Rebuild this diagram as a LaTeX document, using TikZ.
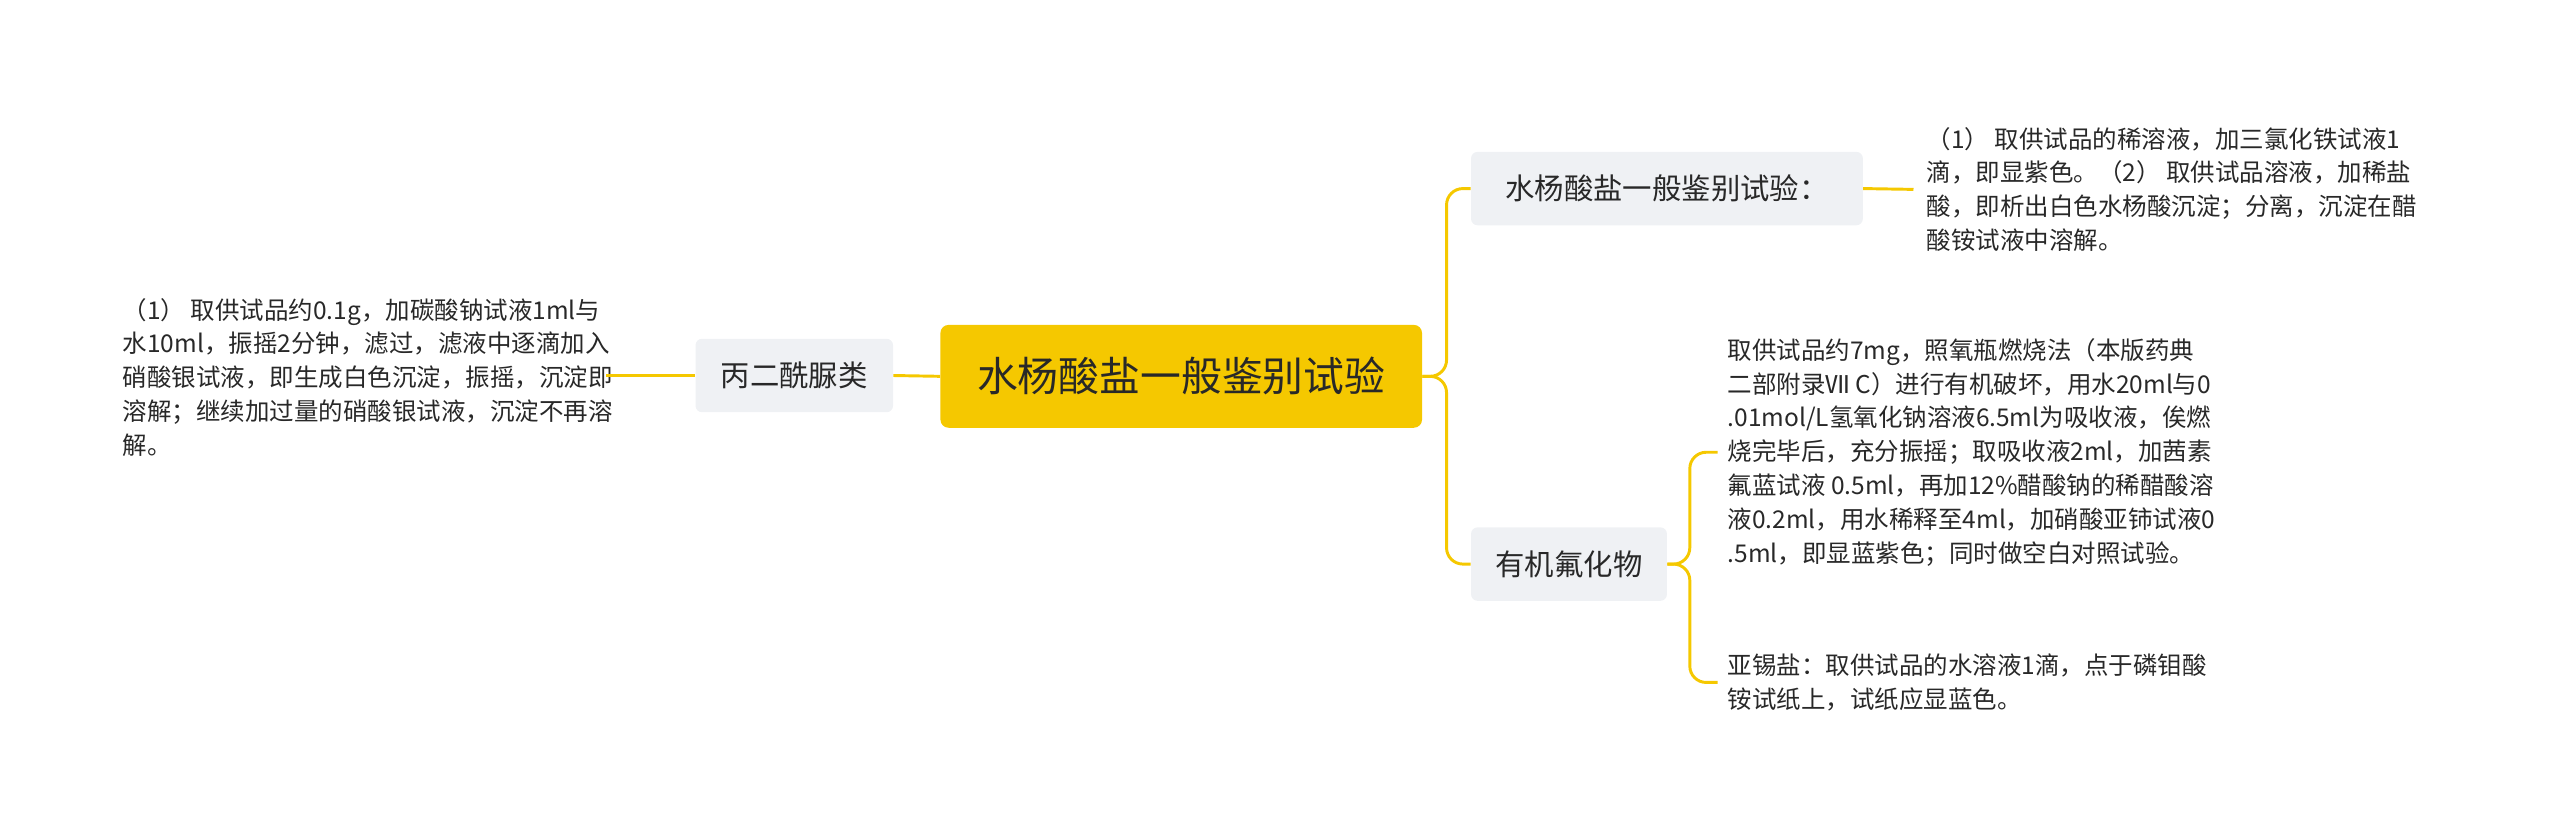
\documentclass[tikz,border=0pt]{standalone}
\usepackage{fontspec}
\setmainfont{Noto Sans CJK SC}
\begin{document}
\begin{tikzpicture}[x=1pt,y=-1pt,
  conn/.style={draw={rgb,255:red,245;green,200;blue,0},line width=1.8pt,rounded corners=10pt},
  sub/.style={fill={rgb,255:red,239;green,241;blue,244},rounded corners=4pt,font=\fontsize{18}{21}\selectfont,text={rgb,255:red,40;green,40;blue,40},inner sep=0pt,minimum height=45pt},
  leaf/.style={align=left,anchor=west,font=\fontsize{15}{20.7}\selectfont,text={rgb,255:red,40;green,40;blue,40},inner sep=0pt}]
\useasboundingbox (0,0) rectangle (1568,511);
\node[fill={rgb,255:red,245;green,200;blue,0},rounded corners=5pt,minimum width=295pt,minimum height=63pt,font=\fontsize{25}{29}\selectfont,text={rgb,255:red,40;green,40;blue,40}] (c) at (723.5,230.5) {水杨酸盐一般鉴别试验};
\node[sub,minimum width=121pt] (l) at (486.5,230) {丙二酰脲类};
\node[sub,minimum width=240pt] (r1) at (1021,115.5) {水杨酸盐一般鉴别试验：};
\node[sub,minimum width=120pt] (r2) at (961,345.5) {有机氟化物};
\node[leaf] (lt) at (75,231) {（1） 取供试品约0.1g，加碳酸钠试液1ml与\\水10ml，振摇2分钟，滤过，滤液中逐滴加入\\硝酸银试液，即生成白色沉淀，振摇，沉淀即\\溶解；继续加过量的硝酸银试液，沉淀不再溶\\解。};
\node[leaf] (t1) at (1180,116) {（1） 取供试品的稀溶液，加三氯化铁试液1\\滴，即显紫色。（2） 取供试品溶液，加稀盐\\酸，即析出白色水杨酸沉淀；分离，沉淀在醋\\酸铵试液中溶解。};
\node[leaf] (t2) at (1058,277) {取供试品约7mg，照氧瓶燃烧法（本版药典\\二部附录Ⅶ C）进行有机破坏，用水20ml与0\\.01mol/L氢氧化钠溶液6.5ml为吸收液，俟燃\\烧完毕后，充分振摇；取吸收液2ml，加茜素\\氟蓝试液 0.5ml，再加12\%醋酸钠的稀醋酸溶\\液0.2ml，用水稀释至4ml，加硝酸亚铈试液0\\.5ml，即显蓝紫色；同时做空白对照试验。};
\node[leaf] (t3) at (1058,418) {亚锡盐：取供试品的水溶液1滴，点于磷钼酸\\铵试纸上，试纸应显蓝色。};
\coordinate (j1) at (886,230.5);
\coordinate (j2) at (1035,345.5);
\draw[conn] (c.east) -- (j1) |- (r1.west);
\draw[conn] (c.east) -- (j1) |- (r2.west);
\draw[conn] (l.east) -- (c.west);
\draw[conn] (l.west) -- ([xshift=-4pt]lt.east |- l.west);
\draw[conn] (r1.east) -- ([xshift=-8pt]t1.west);
\draw[conn] (r2.east) -- (j2) |- ([xshift=-6pt]t2.west);
\draw[conn] (r2.east) -- (j2) |- ([xshift=-6pt]t3.west);
\end{tikzpicture}
\end{document}
